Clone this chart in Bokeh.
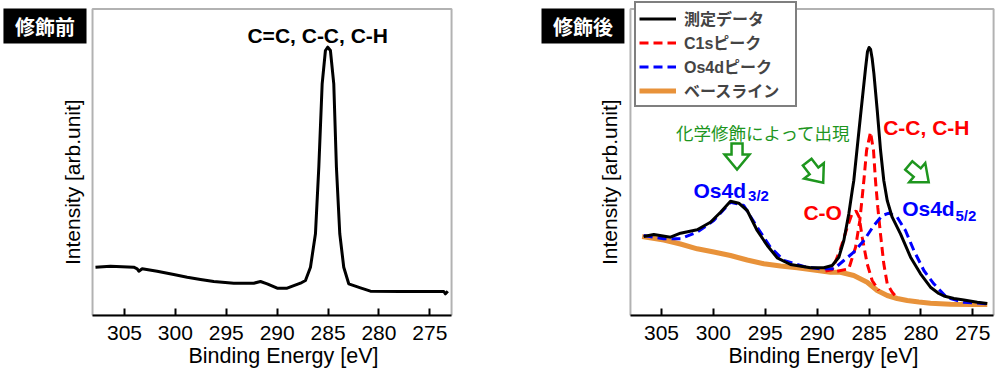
import math
from bokeh.plotting import figure
from bokeh.layouts import row
from bokeh.models import (Range1d, FixedTicker, Label, Legend, LegendItem, BoxAnnotation, Title)
from bokeh.embed import file_html
from bokeh.resources import INLINE

# ---------------- data ----------------
TICKS = [305, 300, 295, 290, 285, 280, 275]

# before modification (measured spectrum)
before_ev = [307.85, 306.38, 304.09, 303.75, 303.59, 303.26, 301.79, 300.16, 298.84, 297.53,
             296.23, 294.26, 292.30, 291.64, 290.98, 290.0, 289.02, 287.71, 287.22, 286.73,
             286.24, 285.91, 285.58, 285.26, 285.03, 284.77, 284.44, 284.18, 283.85, 283.46,
             282.97, 281.82, 280.84, 277.89, 273.63, 273.47, 273.24]
before_int = [48.3, 49.3, 48.3, 46.7, 44.3, 46.7, 44.3, 41, 38.3, 36,
              34, 32.3, 32.3, 34, 31.7, 27.3, 27.3, 32.3, 35, 48.3,
              81.7, 148.3, 231.7, 265, 268.3, 265, 231.7, 148.3, 81.7, 48.3,
              31.7, 27.7, 24.3, 24, 24, 21.7, 24.3]

# after modification: measured spectrum
meas_ev = [306.71, 305.74, 304.13, 303.17, 301.56, 300.28, 299.31, 298.35, 297.55, 296.74,
           295.78, 294.81, 293.85, 292.57, 290.64, 289.36, 288.55, 287.91, 287.43, 286.95,
           286.62, 286.47, 286.30, 285.82, 285.34, 285.15, 285.0, 284.85, 284.7, 284.53,
           284.21, 283.89, 283.58, 283.25, 282.77, 281.97, 281.0, 280.04, 279.08, 278.28,
           277.79, 276.82, 275.86, 274.57, 273.61]
meas_int = [79, 81, 78.3, 82.3, 85.7, 93.3, 103.3, 114.3, 112.3, 105,
            85, 70, 57.7, 51, 47.7, 47.7, 50, 58.3, 75, 101.7,
            125, 135, 152, 200, 247, 264, 268, 266, 257, 241.7,
            205, 165, 135, 115, 98.3, 81.7, 58.3, 41.7, 28.3, 22,
            19.5, 17, 15.5, 13.3, 12]

# C1s components
c1s_co_ev = [289.2, 288.55, 287.75, 287.10, 286.62, 286.25, 285.95, 285.66, 285.18, 284.70, 284.06]
c1s_co_int = [44.5, 45.7, 66.7, 88.3, 102.3, 104.5, 98.3, 78.3, 51.7, 35, 25]
c1s_cc_ev = [288.07, 286.95, 286.30, 285.89, 285.66, 285.50, 285.24, 284.86, 284.57, 284.38,
             284.16, 283.90, 283.58, 283.25, 282.77, 282.29]
c1s_cc_int = [44.3, 46.7, 68.3, 95, 118.3, 135, 165, 183.3, 165, 135,
              108.3, 81.7, 51.7, 31.7, 23.3, 17.5]

# Os4d component
os_ev = [306.71, 304.78, 303.17, 301.56, 299.96, 298.35, 297.07, 295.78, 294.5, 293.21,
         291.29, 289.68, 288.39, 287.43, 286.47, 285.5, 284.54, 283.73, 283.09, 282.29,
         281.49, 280.68, 279.72, 278.76, 277.5, 275.9, 273.6]
os_int = [80, 76.7, 76.7, 83.3, 95, 113.3, 110, 88.3, 68.3, 55,
          49, 46.7, 46.7, 55, 63.3, 75, 90, 100, 102.3, 98.3,
          85, 65, 45, 31.7, 18, 13.3, 11.7]

# baseline
base_ev = [306.86, 304.77, 303.17, 301.56, 299.96, 298.35, 296.74, 295.14, 293.53, 291.92,
           290.31, 288.71, 287.75, 286.47, 285.18, 284.21, 283.25, 282.29, 281.32, 280.2,
           279.08, 277.15, 275.22, 273.61]
base_int = [79, 75.5, 71.5, 66.7, 63.5, 60, 55.5, 51.7, 49.5, 47.7,
            45.5, 43.3, 43.3, 40, 33.3, 25, 20, 17, 15, 13.5,
            12.3, 11.3, 11, 11]

LEGEND_LABELS = ["測定データ", "C1sピーク", "Os4dピーク", "ベースライン"]

# ---------------- style ----------------
LAT = "Liberation Sans"
MIX = "Liberation Sans, Noto Sans CJK JP"
CJK = "Noto Sans CJK JP"
BLACK = "#000000"
RED = "#ff0000"
BLUE = "#0000ff"
ORANGE = "#e8923a"
GREEN = "#1e961e"

Y_TOP = 315          # intensity range shown (frame height in px)
BOX_TOP = 306.5      # top edge of the drawn plot box


def make_fig(width, mbr, xs, xe, box_l, box_r, xlabel_offset, ylab_x, title_box, title_txt, title):
    p = figure(width=width, height=378, output_backend="svg", toolbar_location=None,
               x_range=Range1d(xs, xe), y_range=Range1d(0, Y_TOP),
               y_axis_location=None,
               min_border_left=0, min_border_right=mbr, min_border_top=0,
               min_border_bottom=63)
    p.xgrid.visible = False
    p.ygrid.visible = False
    p.outline_line_color = None
    xa = p.xaxis[0]
    xa.bounds = (box_r, box_l)
    xa.ticker = FixedTicker(ticks=TICKS)
    xa.major_tick_in = 7
    xa.major_tick_out = 0
    xa.major_tick_line_width = 2
    xa.minor_tick_line_color = None
    xa.axis_line_width = 2
    xa.major_label_text_font = LAT
    xa.major_label_text_font_size = "21px"
    xa.major_label_text_color = "black"
    xa.major_label_standoff = 10
    p.add_layout(Title(text="Binding Energy [eV]", align="left", offset=xlabel_offset,
                       text_font=LAT, text_font_size="21.5px", text_font_style="normal",
                       text_color="black", standoff=2, vertical_align="top"), "below")
    # plot box
    p.add_layout(BoxAnnotation(left=box_l, right=box_r, bottom=0, top=BOX_TOP,
                               fill_color=None, line_color="black", line_width=2))
    # y axis label (no ticks in the original)
    p.add_layout(Label(x=ylab_x, y=133.3, text="Intensity [arb.unit]", angle=math.pi / 2,
                       text_font=LAT, text_font_size="21px", text_color="black",
                       text_align="center", text_baseline="alphabetic"))
    # black title box
    bl, br, bt, bb = title_box
    p.add_layout(BoxAnnotation(left=bl, right=br, top=bt, bottom=bb, fill_color="black",
                               fill_alpha=1, line_color=None))
    p.add_layout(Label(x=title_txt[0], y=title_txt[1], text=title, text_font=CJK,
                       text_font_size="20px", text_font_style="bold", text_color="white",
                       text_align="center", text_baseline="middle"))
    return p


# ---------------- left panel ----------------
pl = make_fig(530, 76, 317.18, 272.58, 308.14, 272.87, 188, 310.15,
              (316.89, 308.73, 307, 272), (312.81, 289.5), "修飾前")
pl.line(before_ev, before_int, line_color=BLACK, line_width=3, line_join="round")
pl.add_layout(Label(x=292.92, y=280, text="C=C, C-C, C-H", text_font=LAT, text_font_size="21px",
                    text_font_style="bold", text_color=BLACK, text_align="left",
                    text_baseline="alphabetic"))

# ---------------- right panel ----------------
SCALE_R = 10.377
pr = make_fig(468, 2, 317.62, 272.72, 307.99, 273.0, 198, 310.05,
              (316.56, 308.57, 307, 272), (312.56, 289.5), "修飾後")
r_base = pr.line(base_ev, base_int, line_color=ORANGE, line_width=5, line_join="round")
r_c1 = pr.line(c1s_co_ev, c1s_co_int, line_color=RED, line_width=3, line_dash="9 5")
r_c2 = pr.line(c1s_cc_ev, c1s_cc_int, line_color=RED, line_width=3, line_dash="9 5")
r_os = pr.line(os_ev, os_int, line_color=BLUE, line_width=3, line_dash="9 5")
r_meas = pr.line(meas_ev, meas_int, line_color=BLACK, line_width=3, line_join="round")

leg = Legend(items=[LegendItem(label=LEGEND_LABELS[0], renderers=[r_meas]),
                    LegendItem(label=LEGEND_LABELS[1], renderers=[r_c1]),
                    LegendItem(label=LEGEND_LABELS[2], renderers=[r_os]),
                    LegendItem(label=LEGEND_LABELS[3], renderers=[r_base])],
             location=(104, 208))
leg.border_line_color = "black"
leg.border_line_width = 2
leg.background_fill_alpha = 1
leg.label_text_font = MIX
leg.label_text_font_size = "16px"
leg.label_text_font_style = "bold"
leg.glyph_width = 37
leg.glyph_height = 21
leg.label_height = 21
leg.label_width = 108
leg.spacing = 0
leg.padding = 3
leg.margin = 0
leg.label_standoff = 8
pr.add_layout(leg)


def lab(x, y, text, color, size, style="bold", font=LAT, align="left", baseline="alphabetic"):
    pr.add_layout(Label(x=x, y=y, text=text, text_font=font, text_font_size=size,
                        text_font_style=style, text_color=color, text_align=align,
                        text_baseline=baseline))


lab(295.17, 183.3, "化学修飾によって出現", GREEN, "17.5px", style="normal", font=CJK,
    align="center", baseline="middle")
lab(301.92, 125, "Os4d", BLUE, "21px")
lab(296.66, 120, "3/2", BLUE, "15px")
lab(281.81, 107, "Os4d", BLUE, "21px")
lab(276.67, 100, "5/2", BLUE, "15px")
lab(291.32, 103, "C-O", RED, "21px")
lab(283.64, 188.3, "C-C, C-H", RED, "21px")

# hollow arrows: (tail eV, tail intensity, angle deg)
ARROWS = [(297.72, 172, -90), (290.96, 153.3, -52), (281.17, 150, -40)]
SHAPE = [(0, -5.5), (11, -5.5), (11, -12.5), (26, 0), (11, 12.5), (11, 5.5), (0, 5.5)]
for ex, iy, ang in ARROWS:
    a = math.radians(ang)
    xs, ys = [], []
    for u, v in SHAPE:
        sx = u * math.cos(a) - v * math.sin(a)
        sy = u * math.sin(a) + v * math.cos(a)
        xs.append(ex - sx / SCALE_R)
        ys.append(iy + sy)
    pr.patch(xs, ys, fill_color="white", line_color=GREEN, line_width=2.5, line_join="miter")

layout = row(pl, pr)
open("out.html", "w").write(file_html(layout, INLINE))
